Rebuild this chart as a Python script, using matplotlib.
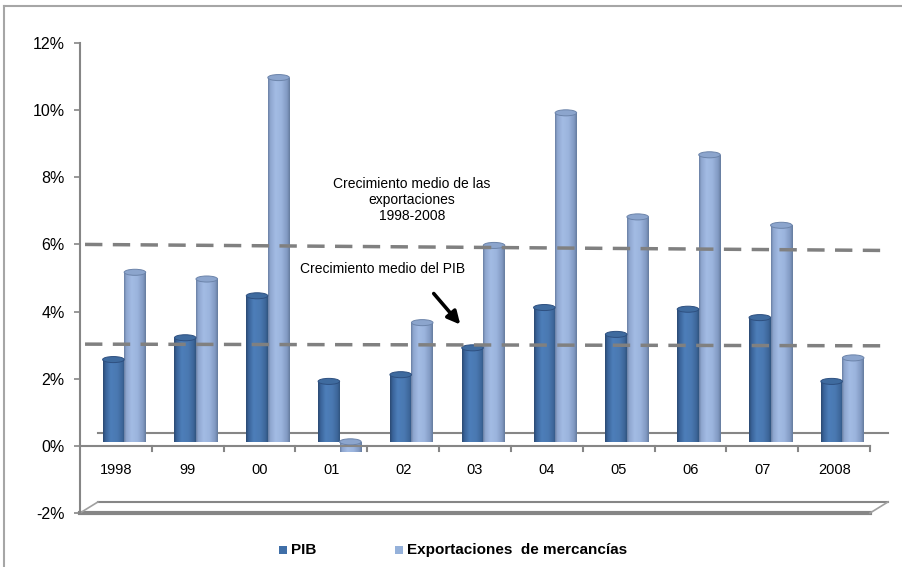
import matplotlib
matplotlib.use("Agg")
import matplotlib.pyplot as plt
import numpy as np
from matplotlib.patches import Rectangle, Ellipse
from matplotlib.colors import LinearSegmentedColormap
from matplotlib.lines import Line2D

plt.rcParams["font.family"] = ["Liberation Sans", "DejaVu Sans"]

# crecimiento anual (%)
years = ["1998", "99", "00", "01", "02", "03", "04", "05", "06", "07", "2008"]
pib = [2.45, 3.1, 4.35, 1.8, 2.0, 2.8, 4.0, 3.2, 3.95, 3.7, 1.8]
exportaciones = [5.05, 4.85, 10.85, -0.3, 3.55, 5.85, 9.8, 6.7, 8.55, 6.45, 2.5]
# medias del periodo (inicio y final de la linea, con perspectiva)
media_pib = [3.03, 2.98]
media_exp = [6.0, 5.82]
yticks = [-2, 0, 2, 4, 6, 8, 10, 12]

W, H = 903, 567
fig = plt.figure(figsize=(W / 100, H / 100), dpi=100)


def fx(px):
    return px / W


def fy(py):
    return 1 - py / H


ax = fig.add_axes([fx(80), fy(513), (888 - 80) / W, (513 - 43) / H])
ax.set_xlim(-0.5, 10.75)
ax.set_ylim(-2, 12)

grey = "#868686"
dx, dy = 0.25, 0.37      # desplazamiento de profundidad
base = 0.12              # base de las columnas
bar_w = 0.30
cap_h = 0.18

cmap_pib = LinearSegmentedColormap.from_list(
    "pib", [(0, "#2B4A73"), (0.12, "#3A649A"), (0.35, "#4D7EB9"),
            (0.65, "#4A79B2"), (0.9, "#3D6699"), (1, "#30547F")])
cmap_exp = LinearSegmentedColormap.from_list(
    "exp", [(0, "#6A80A4"), (0.1, "#8EA6CF"), (0.35, "#A3BCE4"),
            (0.62, "#9BB4DD"), (0.88, "#8199C2"), (1, "#667C9F")])


def cylinder(xc, v, cmap, cap_face, cap_edge):
    x0 = xc - bar_w / 2
    lo, hi = sorted([base, base + v])
    rect = Rectangle((x0, lo), bar_w, hi - lo, fc="none", ec="none")
    ax.add_patch(rect)
    grad = np.linspace(0, 1, 64).reshape(1, -1)
    im = ax.imshow(grad, extent=(x0, x0 + bar_w, lo, hi), aspect="auto",
                   cmap=cmap, zorder=3, interpolation="bilinear")
    im.set_clip_path(rect)
    ax.add_patch(Ellipse((xc, hi), bar_w, cap_h, fc=cap_face, ec=cap_edge,
                         lw=0.7, zorder=4))


# pared del fondo (linea del cero) y suelo
ax.plot([-0.5 + dx, 10.5 + dx], [dy, dy], color=grey, lw=1.5, zorder=2,
        clip_on=False)
fy_back = -2 + 0.33
ax.plot([-0.5 + dx, 10.5 + dx], [fy_back, fy_back], color=grey, lw=1.5,
        clip_on=False, zorder=2)
ax.plot([-0.5, 10.5], [-2, -2], color=grey, lw=3, clip_on=False, zorder=2)
ax.plot([-0.5, -0.5 + dx], [-2, fy_back], color="#a0a0a0", lw=1.2,
        clip_on=False, zorder=2)
ax.plot([10.5, 10.5 + dx], [-2, fy_back], color="#a0a0a0", lw=1.2,
        clip_on=False, zorder=2)

x = np.arange(len(years))
for i in x:
    cylinder(i - 0.035, pib[i], cmap_pib, "#3F6B9F", "#2E5080")
    cylinder(i + 0.265, exportaciones[i], cmap_exp, "#8CA5CD", "#6C84AA")

# eje de categorias
ax.plot([-0.5, 10.5], [0, 0], color=grey, lw=1.5, zorder=5, clip_on=False)
for k in range(1, len(years) + 1):
    ax.plot([-0.5 + k, -0.5 + k], [0, -0.15], color=grey, lw=1.5, zorder=5,
            clip_on=False)
for i, lab in enumerate(years):
    ax.text(i, -0.72, lab, ha="center", va="center", fontsize=10.5)

# lineas de crecimiento medio
ax.plot([-0.43, 10.72], media_exp, color="#808080", lw=2.5,
        dashes=(5, 3), zorder=6)
ax.plot([-0.43, 10.72], media_pib, color="#808080", lw=2.5,
        dashes=(5, 3), zorder=6)

ax.text(4.12, 7.32, "Crecimiento medio de las\nexportaciones\n1998-2008",
        ha="center", va="center", fontsize=10, linespacing=1.2)
ax.text(2.56, 5.27, "Crecimiento medio del PIB", ha="left", va="center",
        fontsize=10)
ax.annotate("", xy=(4.82, 3.55), xytext=(4.4, 4.6),
            arrowprops=dict(arrowstyle="-|>", lw=2.6, color="black",
                            mutation_scale=19))

# eje vertical
for s in ["top", "right", "bottom"]:
    ax.spines[s].set_visible(False)
ax.spines["left"].set_color(grey)
ax.spines["left"].set_linewidth(1.5)
ax.set_xticks([])
ax.set_yticks(yticks)
ax.set_yticklabels(["%d%%" % t for t in yticks], fontsize=11.5)
ax.tick_params(axis="y", length=4, width=1.2, color=grey, pad=7)
ax.patch.set_visible(False)

# leyenda
fig.add_artist(Rectangle((fx(279), fy(554)), 8 / W, 8 / H,
                         transform=fig.transFigure, fc="#3F6FA8", ec="none"))
fig.text(fx(291), fy(550), "PIB", fontsize=11, fontweight="bold",
         va="center")
fig.add_artist(Rectangle((fx(395), fy(554)), 8 / W, 8 / H,
                         transform=fig.transFigure, fc="#95B1DA", ec="none"))
fig.text(fx(407), fy(550), "Exportaciones  de mercancías", fontsize=11,
         fontweight="bold", va="center")

# marco del grafico
fig.add_artist(Line2D([fx(4), 1], [fy(6), fy(6)], transform=fig.transFigure,
                      color="#a6a6a6", lw=1.5))
fig.add_artist(Line2D([fx(4), fx(4)], [fy(6), 0], transform=fig.transFigure,
                      color="#a6a6a6", lw=1.5))

fig.savefig("out.png", dpi=100)
